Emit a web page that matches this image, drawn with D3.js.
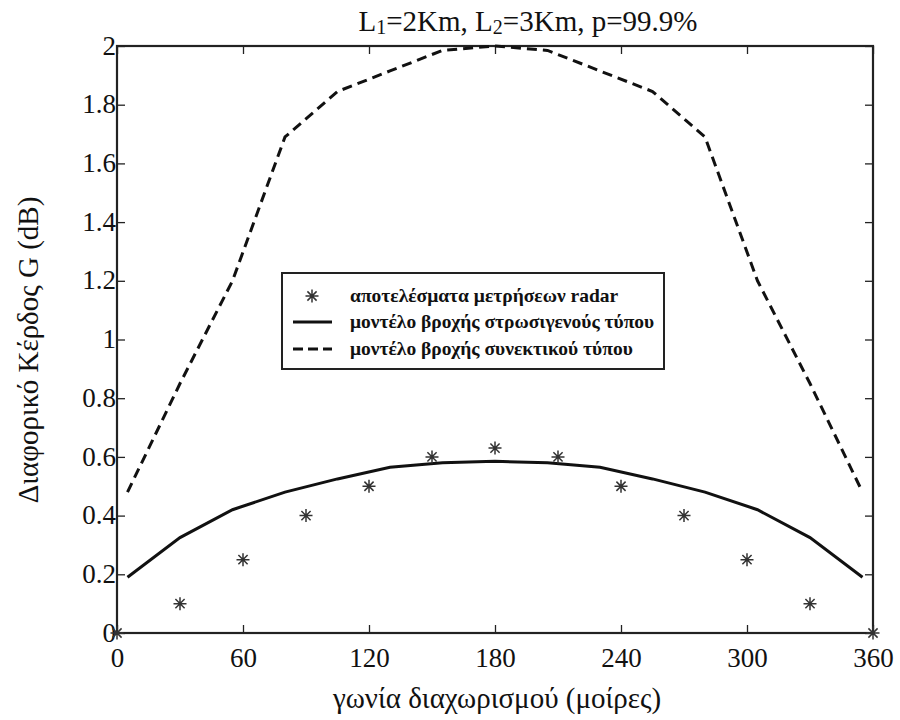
<!DOCTYPE html>
<html>
<head>
<meta charset="utf-8">
<script src="https://cdn.jsdelivr.net/npm/d3@7.9.0/dist/d3.min.js"></script>
<style>
  body { margin: 0; background: #fff; }
  svg { display: block; }
</style>
</head>
<body>
<div id="chart"></div>
<script>
// radar measurements (stars)
const radarAngles = [0, 30, 60, 90, 120, 150, 180, 210, 240, 270, 300, 330, 360];
const radarGain = [0, 0.1, 0.25, 0.4, 0.5, 0.6, 0.63, 0.6, 0.5, 0.4, 0.25, 0.1, 0];

// model curves
const modelAngles = [5, 30, 55, 80, 105, 130, 155, 180, 205, 230, 255, 280, 305, 330, 355];
const stratiformGain = [0.19, 0.325, 0.42, 0.48, 0.525, 0.565, 0.58, 0.585, 0.58, 0.565, 0.525, 0.48, 0.42, 0.325, 0.19];
const convectiveGain = [0.48, 0.85, 1.2, 1.69, 1.845, 1.915, 1.985, 2.0, 1.985, 1.915, 1.845, 1.69, 1.2, 0.85, 0.48];

const xTicks = [0, 60, 120, 180, 240, 300, 360];
const yTicks = [0, 0.2, 0.4, 0.6, 0.8, 1, 1.2, 1.4, 1.6, 1.8, 2];

const legendLabels = [
    "αποτελέσματα μετρήσεων radar",
    "μοντέλο βροχής στρωσιγενούς τύπου",
    "μοντέλο βροχής συνεκτικού τύπου"
];

const width = 900;
const height = 720;
const area = { left: 117, right: 873, top: 46, bottom: 633 };
const serif = "'Liberation Serif', 'Times New Roman', serif";

const svg = d3.select("#chart")
    .append("svg")
    .attr("width", width)
    .attr("height", height);

svg.append("rect").attr("width", width).attr("height", height).attr("fill", "#fff");

const x = d3.scaleLinear().domain([0, 360]).range([area.left, area.right]);
const y = d3.scaleLinear().domain([0, 2]).range([area.bottom, area.top]);

const fmt = d => String(+d.toFixed(1));
const tickLen = 8;

// axes, matlab style: inward ticks on all four sides
const gx = svg.append("g")
    .attr("transform", `translate(0,${area.bottom})`)
    .call(d3.axisBottom(x).tickValues(xTicks).tickSize(-tickLen).tickPadding(15).tickFormat(fmt));
const gxTop = svg.append("g")
    .attr("transform", `translate(0,${area.top})`)
    .call(d3.axisTop(x).tickValues(xTicks).tickSize(-tickLen).tickFormat(""));
const gy = svg.append("g")
    .attr("transform", `translate(${area.left},0)`)
    .call(d3.axisLeft(y).tickValues(yTicks).tickSize(-tickLen).tickPadding(1).tickFormat(fmt));
const gyRight = svg.append("g")
    .attr("transform", `translate(${area.right},0)`)
    .call(d3.axisRight(y).tickValues(yTicks).tickSize(-tickLen).tickFormat(""));

[gx, gxTop, gy, gyRight].forEach(g => {
    g.attr("font-family", null);
    g.select(".domain").remove();
    g.selectAll("line").attr("stroke", "#222").attr("stroke-width", 1.3);
    g.selectAll("text")
        .attr("fill", "#111")
        .style("font-family", serif)
        .style("font-size", "27px");
});
gy.selectAll("text").attr("dy", "0.3em");

// frame
svg.append("rect")
    .attr("x", area.left)
    .attr("y", area.top)
    .attr("width", area.right - area.left)
    .attr("height", area.bottom - area.top)
    .attr("fill", "none")
    .attr("stroke", "#222")
    .attr("stroke-width", 2.2);

// lines
const line = d3.line()
    .x(d => x(d[0]))
    .y(d => y(d[1]));

svg.append("path")
    .datum(modelAngles.map((a, i) => [a, stratiformGain[i]]))
    .attr("fill", "none")
    .attr("stroke", "#111")
    .attr("stroke-width", 3)
    .attr("d", line);

svg.append("path")
    .datum(modelAngles.map((a, i) => [a, convectiveGain[i]]))
    .attr("fill", "none")
    .attr("stroke", "#111")
    .attr("stroke-width", 3)
    .attr("stroke-dasharray", "10,6")
    .attr("d", line);

// star marker like matlab '*'
function starPath(r) {
    const d = r * Math.SQRT1_2;
    return `M${-r},0L${r},0M0,${-r}L0,${r}M${-d},${-d}L${d},${d}M${-d},${d}L${d},${-d}`;
}

svg.append("g")
    .selectAll("path")
    .data(radarAngles.map((a, i) => [a, radarGain[i]]))
    .join("path")
    .attr("transform", d => `translate(${x(d[0])},${y(d[1])})`)
    .attr("d", starPath(6.5))
    .attr("fill", "none")
    .attr("stroke", "#333")
    .attr("stroke-width", 1.5);

// title
const title = svg.append("text")
    .attr("x", 528)
    .attr("y", 31)
    .attr("text-anchor", "middle")
    .attr("fill", "#111")
    .style("font-family", serif)
    .style("font-size", "29px");
title.append("tspan").text("L");
title.append("tspan").text("1").style("font-size", "20px").attr("dy", 3);
title.append("tspan").text("=2Km, L").attr("dy", -3);
title.append("tspan").text("2").style("font-size", "20px").attr("dy", 3);
title.append("tspan").text("=3Km, p=99.9%").attr("dy", -3);

// axis labels
svg.append("text")
    .attr("x", 497)
    .attr("y", 708)
    .attr("text-anchor", "middle")
    .attr("fill", "#111")
    .style("font-family", serif)
    .style("font-size", "29px")
    .text("γωνία διαχωρισμού (μοίρες)");

svg.append("text")
    .attr("transform", `translate(38,350) rotate(-90)`)
    .attr("text-anchor", "middle")
    .attr("fill", "#111")
    .style("font-family", serif)
    .style("font-size", "29px")
    .text("Διαφορικό Κέρδος G (dB)");

// legend
const legend = svg.append("g").attr("transform", "translate(282,273)");
legend.append("rect")
    .attr("width", 382)
    .attr("height", 96)
    .attr("fill", "#fff")
    .attr("stroke", "#222")
    .attr("stroke-width", 2);

const rowY = [23, 49, 76];
legend.append("path")
    .attr("transform", `translate(30,${rowY[0]})`)
    .attr("d", starPath(6.5))
    .attr("stroke", "#333")
    .attr("stroke-width", 1.5);
legend.append("line")
    .attr("x1", 11).attr("x2", 50).attr("y1", rowY[1]).attr("y2", rowY[1])
    .attr("stroke", "#111").attr("stroke-width", 3);
legend.append("line")
    .attr("x1", 11).attr("x2", 50).attr("y1", rowY[2]).attr("y2", rowY[2])
    .attr("stroke", "#111").attr("stroke-width", 3)
    .attr("stroke-dasharray", "10,5");

legend.selectAll("text.lab")
    .data(legendLabels)
    .join("text")
    .attr("class", "lab")
    .attr("x", 68)
    .attr("y", (d, i) => rowY[i] + 6)
    .attr("fill", "#111")
    .style("font-family", serif)
    .style("font-size", "19.5px")
    .style("font-weight", "bold")
    .text(d => d);
</script>
</body>
</html>
